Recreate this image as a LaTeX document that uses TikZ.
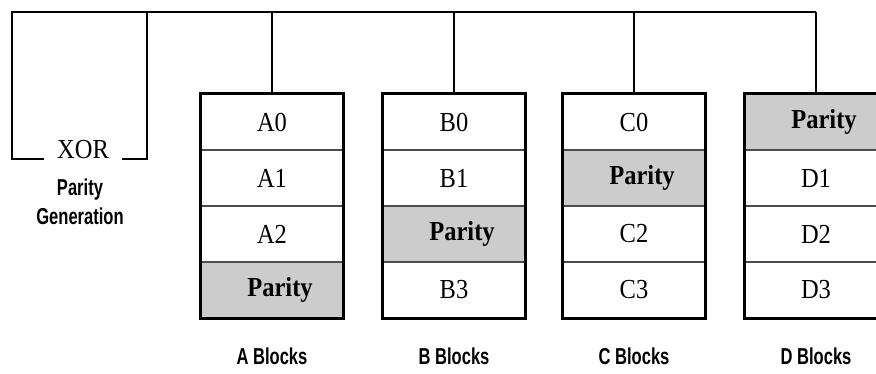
\documentclass[tikz,border=0pt]{standalone}
\usepackage{fontspec}
\setmainfont{Liberation Serif}
\newfontfamily\labelfont{Liberation Sans}
\usetikzlibrary{positioning}

\tikzset{
  cell/.style={minimum width=142pt, minimum height=56pt, inner sep=0pt,
    draw=black!70, line width=1.1pt,
    font=\fontsize{25}{25}\selectfont},
  paritycell/.style={cell, fill=black!20, font=\fontsize{25}{25}\selectfont\bfseries},
  frame/.style={draw=black, line width=2.6pt},
  bus/.style={draw=black, line width=2.4pt},
  caption/.style={font=\labelfont\bfseries\fontsize{23}{23}\selectfont, inner sep=0pt},
}
\newcommand{\narrow}[1]{\scalebox{0.72}[1]{#1}}
\newcommand{\tallserif}[1]{\scalebox{0.98}[1.1]{#1}}

\begin{document}
\begin{tikzpicture}[x=1pt, y=-1pt]
  \useasboundingbox (0,0) rectangle (876,374);
  \clip (0,0) rectangle (876,374);

  % bus coordinates
  \coordinate (busL) at (12,12);
  \coordinate (busR) at (816,12);
  \coordinate (xorTap) at (147,12);

  % XOR with its bracket
  \node[anchor=base, inner xsep=13pt, inner ysep=0pt, font=\fontsize{25}{25}\selectfont] (xor) at (83,159) {\tallserif{XOR}};
  \node[caption] (pg1) at (80,190) {\narrow{Parity}};
  \node[caption] (pg2) at (80,216) {\narrow{Generation}};

  % disk columns: name, x center, parity row
  \foreach \c/\x/\p in {A/272/3, B/454/2, C/634/1, D/816/0}{
    \foreach \r in {0,1,2,3}{
      \pgfmathtruncatemacro{\isp}{\r==\p ? 1 : 0}
      \ifnum\isp=1
        \node[paritycell] (\c\r) at (\x,122+56*\r) {\hspace*{16pt}\tallserif{Parity}};
      \else
        \node[cell] (\c\r) at (\x,122+56*\r) {\tallserif{\c\r}};
      \fi
    }
    \draw[frame] (\c0.north west) rectangle (\c3.south east);
    \draw[bus] (\c0.north) -- (\c0.north |- busL);
    \node[caption] (\c lbl) at (\x,356) {\narrow{\c\ Blocks}};
  }

  % bus lines
  \draw[bus] (xor.base west) -| (busL) -- (busR);
  \draw[bus] (xor.base east) -| (xorTap);
\end{tikzpicture}
\end{document}
